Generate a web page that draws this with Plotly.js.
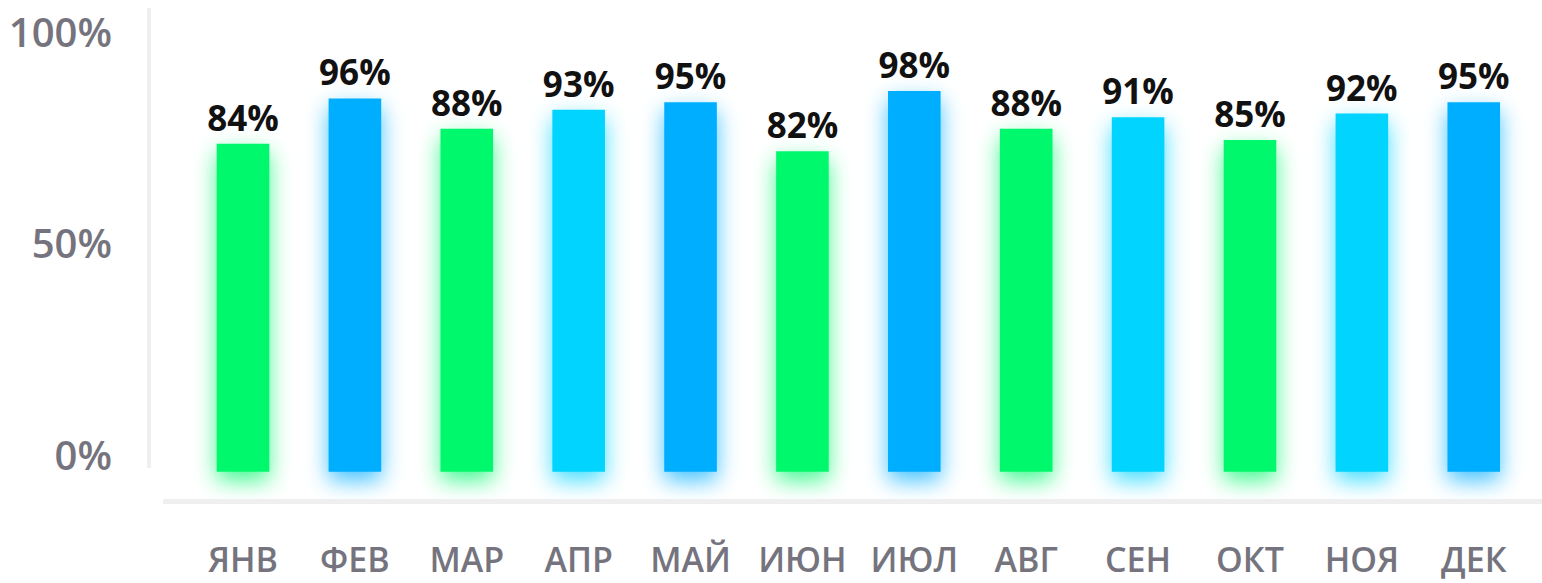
<!DOCTYPE html>
<html>
<head>
<meta charset="utf-8">
<script src="https://cdn.plot.ly/plotly-3.0.1.min.js"></script>
<style>
  html, body { margin: 0; padding: 0; background: #fff; }
  #chart { width: 1542px; height: 583px; }
</style>
</head>
<body>
<div id="chart"></div>
<script>
// Месяцы и значения
const months = ['ЯНВ', 'ФЕВ', 'МАР', 'АПР', 'МАЙ', 'ИЮН', 'ИЮЛ', 'АВГ', 'СЕН', 'ОКТ', 'НОЯ', 'ДЕК'];
const values = [84, 96, 88, 93, 95, 82, 98, 88, 91, 85, 92, 95];
const barColors = ['#00f86c', '#00aeff', '#00f86c', '#00d4ff', '#00aeff', '#00f86c',
                   '#00aeff', '#00f86c', '#00d4ff', '#00f86c', '#00d4ff', '#00aeff'];

// Подписи оси Y
const yTickLabels = [0, 50, 100];

// на картинке шкала подписей растянута относительно столбиков
const axisScale = 1.122;
const axisOffset = 1.2;

const CHART = document.getElementById('chart');

const data = [{
    type: 'bar',
    x: months,
    y: values.map(v => v + 3),
    base: -3,
    width: 0.47,
    marker: { color: barColors },
    text: values.map(v => v + '%'),
    textposition: 'outside',
    constraintext: 'none',
    cliponaxis: false,
    textfont: { family: 'Open Sans', size: 35, color: '#111111', weight: 700 },
    hoverinfo: 'none'
}];

const layout = {
    width: 1542,
    height: 583,
    margin: { l: 163, r: 0, t: 5, b: 84 },
    paper_bgcolor: '#ffffff',
    plot_bgcolor: '#ffffff',
    showlegend: false,
    font: { family: 'Open Sans', color: '#75747e' },
    xaxis: {
        type: 'category',
        range: [-0.715, 11.61],
        showgrid: false,
        zeroline: false,
        showline: true,
        linecolor: '#efefef',
        linewidth: 5,
        ticks: '',
        ticklabelstandoff: 27,
        tickfont: { family: 'Open Sans', size: 34, color: '#75747e', weight: 600 }
    },
    yaxis: {
        range: [-10.24, 120.8],
        showgrid: false,
        zeroline: false,
        showline: false,
        ticks: '',
        tickmode: 'array',
        tickvals: yTickLabels.map(v => v * axisScale + axisOffset),
        ticktext: yTickLabels.map(v => v + '%'),
        ticklabelstandoff: 50,
        tickfont: { family: 'Open Sans', size: 40, color: '#75747e', weight: 600 }
    },
    shapes: [{
        type: 'line',
        xref: 'paper', yref: 'paper',
        x0: -0.0102, x1: -0.0102,
        y0: 0.063, y1: 0.994,
        line: { color: '#f0eef0', width: 4 }
    }]
};

Plotly.newPlot(CHART, data, layout, { displayModeBar: false, staticPlot: true }).then(gd => {
    // мягкое свечение под столбиками
    gd.querySelectorAll('.barlayer .point path').forEach((p, i) => {
        p.style.filter = 'drop-shadow(0 9px 11px ' + barColors[i] + 'bb)';
    });
});
</script>
</body>
</html>
